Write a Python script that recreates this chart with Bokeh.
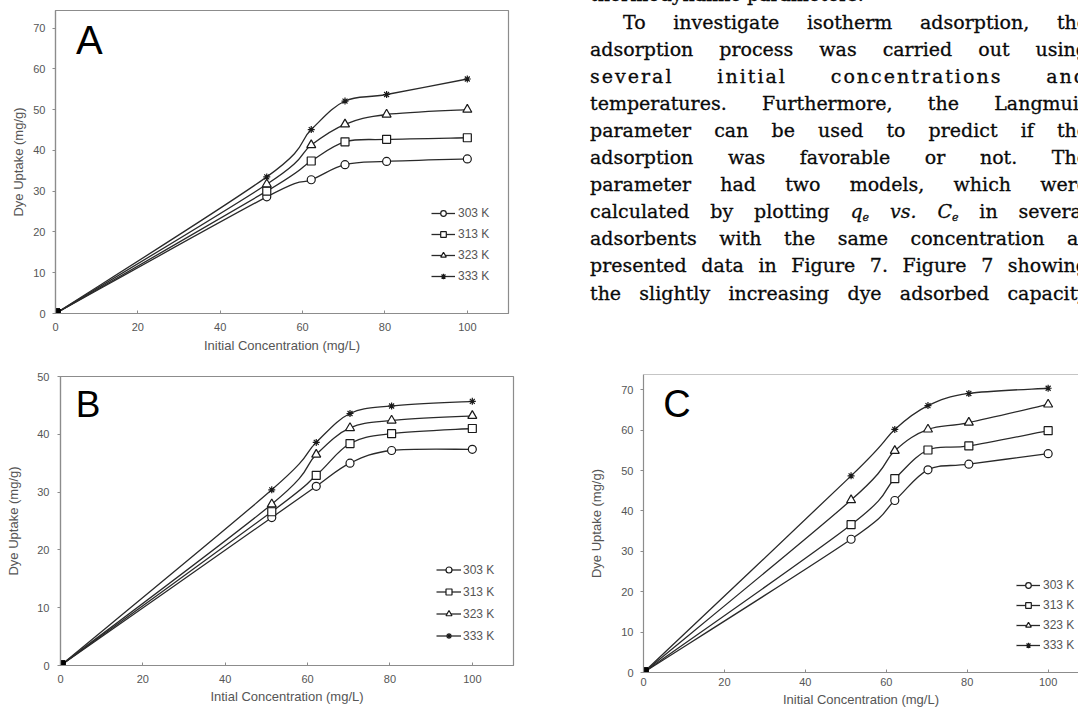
from bokeh.plotting import figure
from bokeh.models import (Range1d, FixedTicker, Legend, LegendItem, Label, Div,
                          Span)
from bokeh.layouts import column, row
from bokeh.embed import file_html
from bokeh.resources import INLINE

# ---------------- data ----------------
conc = [0, 51.3, 62.1, 70.3, 80.4, 100]
temps = ["303 K", "313 K", "323 K", "333 K"]

a_303 = [0, 28.6, 32.8, 36.5, 37.3, 37.9]
a_313 = [0, 30.0, 37.4, 42.1, 42.7, 43.1]
a_323 = [0, 31.7, 41.3, 46.4, 48.8, 50.0]
a_333 = [0, 33.5, 45.1, 52.1, 53.7, 57.5]

b_303 = [0, 25.6, 31.0, 35.0, 37.2, 37.4]
b_313 = [0, 26.6, 32.9, 38.4, 40.1, 41.0]
b_323 = [0, 27.9, 36.5, 41.1, 42.4, 43.2]
b_333 = [0, 30.4, 38.6, 43.6, 44.9, 45.7]

c_303 = [0, 33.0, 42.6, 50.2, 51.6, 54.2]
c_313 = [0, 36.6, 48.0, 55.1, 56.1, 59.9]
c_323 = [0, 42.7, 54.9, 60.2, 61.9, 66.4]
c_333 = [0, 48.7, 60.2, 66.1, 69.1, 70.4]

x_ticks = [0, 20, 40, 60, 80, 100]
y_ticks_70 = [0, 10, 20, 30, 40, 50, 60, 70]
y_ticks_50 = [0, 10, 20, 30, 40, 50]

prev_line = "thermodynamic parameters."
text_lines = [
    "To investigate isotherm adsorption, the",
    "adsorption process was carried out using",
    "several initial concentrations and",
    "temperatures. Furthermore, the Langmuir",
    "parameter can be used to predict if the",
    "adsorption was favorable or not. The",
    "parameter had two models, which were",
    "calculated by plotting <i>q<span style='font-size:11px;vertical-align:-3px'>e</span> vs. C<span style='font-size:11px;vertical-align:-3px'>e</span></i> in several",
    "adsorbents with the same concentration as",
    "presented data in Figure 7. Figure 7 showing",
    "the slightly increasing dye adsorbed capacity",
]

MARKERS = ["circle", "square", "triangle", "asterisk"]
MSIZE = [8, 8, 9, 7]
LINE_C = "#2a2a2a"
AX_C = "#8c8c8c"
LBL_C = "#555555"
FONT = "Liberation Sans"


def smooth(x, y):
    n = len(x)
    X = [x[0]] + list(x) + [x[-1]]
    Y = [y[0]] + list(y) + [y[-1]]
    d = dict(x0=[], y0=[], x1=[], y1=[], cx0=[], cy0=[], cx1=[], cy1=[])
    for i in range(n - 1):
        d["x0"].append(X[i + 1]); d["y0"].append(Y[i + 1])
        d["x1"].append(X[i + 2]); d["y1"].append(Y[i + 2])
        d["cx0"].append(X[i + 1] + (X[i + 2] - X[i]) / 6)
        d["cy0"].append(Y[i + 1] + (Y[i + 2] - Y[i]) / 6)
        d["cx1"].append(X[i + 2] - (X[i + 3] - X[i + 1]) / 6)
        d["cy1"].append(Y[i + 2] - (Y[i + 3] - Y[i + 1]) / 6)
    return d


def chart(series, width, height, borders, xend, yend, yticks, letter, letter_pos,
          letter_size, xlabel, tick_fs, lab_fs, leg_fs, legend_cfg,
          ytick_standoff, ylab_standoff, xtick_standoff, xlab_standoff,
          open_right=False):
    bl, br, bt, bb = borders
    p = figure(width=width, height=height, output_backend="svg",
               toolbar_location=None, x_range=Range1d(0, xend),
               y_range=Range1d(0, yend), min_border_left=bl,
               min_border_right=br, min_border_top=bt, min_border_bottom=bb)
    p.xgrid.visible = False
    p.ygrid.visible = False
    p.background_fill_color = "white"
    p.border_fill_color = "white"
    if open_right:
        p.outline_line_color = None
        p.add_layout(Span(location=yend, dimension="width", line_color=AX_C,
                          line_width=1.2))
    else:
        p.outline_line_color = AX_C
        p.outline_line_width = 1.2
    p.xaxis.ticker = FixedTicker(ticks=x_ticks)
    p.yaxis.ticker = FixedTicker(ticks=yticks)
    for ax in (p.xaxis[0], p.yaxis[0]):
        ax.axis_line_color = AX_C
        ax.axis_line_width = 1.2
        ax.major_tick_line_color = AX_C
        ax.minor_tick_line_color = None
        ax.major_label_text_color = LBL_C
        ax.major_label_text_font = FONT
        ax.major_label_text_font_size = tick_fs
        ax.axis_label_text_color = LBL_C
        ax.axis_label_text_font = FONT
        ax.axis_label_text_font_size = lab_fs
        ax.axis_label_text_font_style = "normal"
    p.xaxis.major_tick_out = 0
    p.xaxis.major_tick_in = 3
    p.xaxis.major_label_standoff = xtick_standoff
    p.xaxis.axis_label_standoff = xlab_standoff
    p.yaxis.major_tick_out = 3
    p.yaxis.major_tick_in = 0
    p.yaxis.major_label_standoff = ytick_standoff
    p.yaxis.axis_label_standoff = ylab_standoff
    p.xaxis.axis_label = xlabel
    p.yaxis.axis_label = "Dye Uptake (mg/g)"

    items = []
    for k, (name, ys) in enumerate(zip(temps, series)):
        bez = p.bezier(line_color=LINE_C, line_width=1.3, **smooth(conc, ys))
        sc = p.scatter(conc[1:], ys[1:], marker=MARKERS[k], size=MSIZE[k],
                       fill_color="white", line_color="#1a1a1a", line_width=1.2)
        items.append(LegendItem(label=name, renderers=[bez, sc]))
    for k, ys in enumerate(series):
        p.scatter([conc[0]], [ys[0]], marker="square", size=9,
                  fill_color="black", line_color="black")

    vx, vy, gh, sp, gw, lso = legend_cfg
    leg = Legend(items=items, location=(vx, vy), glyph_width=gw,
                 glyph_height=gh, label_height=gh, spacing=sp, padding=0,
                 margin=0, border_line_color=None, background_fill_alpha=0,
                 label_text_font=FONT, label_text_font_size=leg_fs,
                 label_text_color=LBL_C, label_standoff=lso)
    p.add_layout(leg)

    lx, ly = letter_pos
    p.add_layout(Label(x=lx, y=ly, text=letter, text_font=FONT,
                       text_font_size=letter_size, text_color="black",
                       text_baseline="alphabetic"))
    return p


pA = chart([a_303, a_313, a_323, a_333], 520, 360, (55, 12, 10, 47), 110, 74.3,
           y_ticks_70, "A", (5.0, 67.0), "40px", "Initial Concentration (mg/L)",
           "11px", "13px", "12px", (376, 30, 14, 7, 24, 3), 7, 4, 9, 4)

pB = chart([b_303, b_313, b_323, b_333], 520, 349, (60, 7, 16, 44), 110, 50,
           y_ticks_50, "B", (3.7, 45.1), "37px", "Intial Concentration (mg/L)",
           "11px", "13px", "12px", (376, 22, 15, 7, 25, 2), 8, 13, 9, 3)

pC = chart([c_303, c_313, c_323, c_333], 558, 349, (123, 0, 14, 37), 107.5, 73.8,
           y_ticks_70, "C", (4.9, 66.6), "38px", "Initial Concentration (mg/L)",
           "11px", "13px", "12px", (373, 20, 14, 6, 24, 3), 7, 14, 5, 3,
           open_right=True)

# ---------------- text column ----------------
TOP0 = 8.5
STEP = 27.1
parts = ["<div style=\"position:absolute;left:70px;top:%.1fpx;line-height:27px;"
         "white-space:nowrap;\">%s</div>" % (TOP0 - STEP, prev_line)]
for i, t in enumerate(text_lines):
    extra = "text-indent:33px;" if i == 0 else ""
    if i == 2:
        extra += "letter-spacing:2px;"
    parts.append(
        "<div style=\"position:absolute;left:70px;top:%.1fpx;width:498px;"
        "line-height:27px;white-space:nowrap;text-align:justify;"
        "text-align-last:justify;%s\">%s</div>" % (TOP0 + i * STEP, extra, t))
html = ("<div style=\"position:relative;width:558px;height:360px;overflow:hidden;"
        "font-family:'DejaVu Serif',serif;font-size:19px;color:#0a0a0a;"
        "-webkit-text-stroke:0.3px #0a0a0a;\">"
        + "".join(parts) + "</div>")
div = Div(text=html, width=558, height=360, margin=0)

layout = column(row(pA, div), row(pB, column(pC)))

open("out.html", "w").write(file_html(layout, INLINE))
